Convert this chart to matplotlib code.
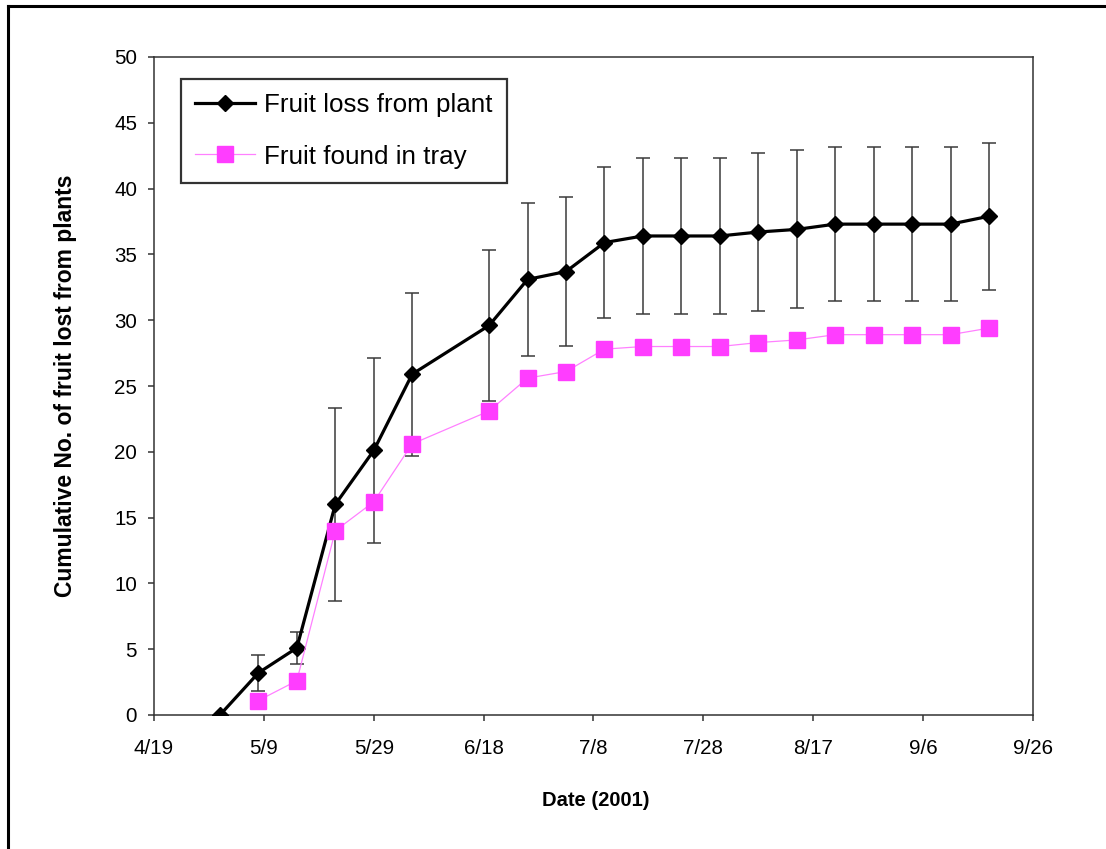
import datetime as dt
import matplotlib
matplotlib.use("Agg")
import matplotlib.pyplot as plt
import matplotlib.dates as mdates
from matplotlib.lines import Line2D
from matplotlib.ticker import FuncFormatter, MultipleLocator

plt.rcParams['font.family'] = ['Liberation Sans', 'DejaVu Sans']

# Sampling dates (2001), weekly with one gap
loss_dates = ["2001-05-01", "2001-05-08", "2001-05-15", "2001-05-22", "2001-05-29",
              "2001-06-05", "2001-06-19", "2001-06-26", "2001-07-03", "2001-07-10",
              "2001-07-17", "2001-07-24", "2001-07-31", "2001-08-07", "2001-08-14",
              "2001-08-21", "2001-08-28", "2001-09-04", "2001-09-11", "2001-09-18"]
loss_values = [0, 3.2, 5.1, 16.0, 20.1, 25.9, 29.6, 33.1, 33.7, 35.9,
               36.4, 36.4, 36.4, 36.7, 36.9, 37.3, 37.3, 37.3, 37.3, 37.9]
loss_err = [0, 1.35, 1.2, 7.35, 7.05, 6.2, 5.75, 5.8, 5.65, 5.75,
            5.9, 5.9, 5.9, 6.0, 6.0, 5.85, 5.85, 5.85, 5.85, 5.6]

tray_dates = loss_dates[1:]
tray_values = [1.1, 2.6, 14.0, 16.2, 20.6, 23.1, 25.6, 26.1, 27.8,
               28.0, 28.0, 28.0, 28.3, 28.5, 28.9, 28.9, 28.9, 28.9, 29.4]

x_start, x_end = "2001-04-19", "2001-09-26"


def to_date(s):
    return dt.datetime.strptime(s, "%Y-%m-%d")


fig = plt.figure(figsize=(11.06, 8.49), dpi=100)
ax = fig.add_axes([154 / 1106, 1 - 715 / 849, 879 / 1106, 658 / 849])

# error bars under the lines
ax.errorbar([to_date(d) for d in loss_dates], loss_values, yerr=loss_err,
            fmt='none', ecolor='#3a3a3a', elinewidth=1.1, capsize=5.3,
            capthick=1.1, zorder=2)
ax.plot([to_date(d) for d in loss_dates], loss_values, color='black', lw=2.3,
        marker='D', ms=8.4, mfc='black', mec='black',
        label='Fruit loss from plant', zorder=3)
ax.plot([to_date(d) for d in tray_dates], tray_values, color='#ff80ff', lw=0.9,
        marker='s', ms=11.2, mfc='#ff3dff', mec='#ff3dff',
        label='Fruit found in tray', zorder=4)

ax.set_xlim(to_date(x_start), to_date(x_end))
ax.set_ylim(0, 50)
ax.set_xticks([to_date(x_start) + dt.timedelta(days=20 * i) for i in range(9)])
ax.xaxis.set_major_formatter(FuncFormatter(
    lambda v, p: f"{mdates.num2date(v).month}/{mdates.num2date(v).day}"))
ax.yaxis.set_major_locator(MultipleLocator(5))

for s in ax.spines.values():
    s.set_color('#333333')
    s.set_linewidth(1.1)
ax.tick_params(axis='both', direction='out', length=4.2, width=1.1,
               color='#333333', labelsize=14.8)
ax.tick_params(axis='x', pad=13)
ax.tick_params(axis='y', pad=8)

ax.set_xlabel('Date (2001)', fontsize=14.5, fontweight='bold')
ax.xaxis.set_label_coords(0.503, -85 / 658)
ax.xaxis.label.set_verticalalignment('center')
ax.set_ylabel('Cumulative No. of fruit lost from plants', fontsize=16.5,
              fontweight='bold')
ax.yaxis.set_label_coords(-88 / 879, 0.5)
ax.yaxis.label.set_verticalalignment('center')

leg = ax.legend(loc='upper left', bbox_to_anchor=(27 / 879, (715 - 79) / 658),
                borderaxespad=0, fontsize=18.7, frameon=True, fancybox=False,
                edgecolor='black', handlelength=2.3, handletextpad=0.35,
                labelspacing=1.05, borderpad=0.55, numpoints=1)
leg.get_frame().set_linewidth(1.6)

# outer chart border (top and left edges visible)
fig.add_artist(Line2D([8 / 1106, 1], [1 - 6 / 849, 1 - 6 / 849],
                      transform=fig.transFigure, color='black', lw=2.2))
fig.add_artist(Line2D([8 / 1106, 8 / 1106], [0, 1 - 6 / 849],
                      transform=fig.transFigure, color='black', lw=2.2))

fig.savefig('out.png', dpi=100)
